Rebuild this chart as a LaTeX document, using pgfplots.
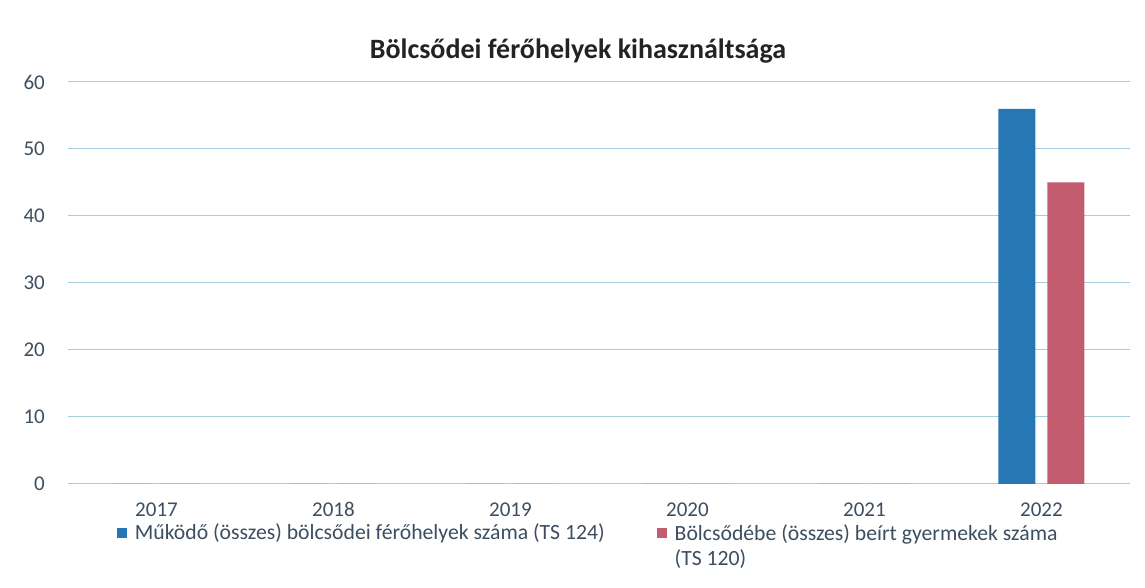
\documentclass[border=0pt]{standalone}
\usepackage{pgfplots}
\pgfplotsset{compat=1.18}
\usepackage{fontspec}
\setmainfont{Carlito}
\definecolor{barblue}{RGB}{38,120,180}
\definecolor{barred}{RGB}{196,92,112}
\definecolor{gridc}{RGB}{165,205,222}
\definecolor{ticktext}{RGB}{60,78,96}
\definecolor{titletext}{RGB}{35,35,35}
\begin{document}
\begin{tikzpicture}[x=1pt,y=1pt]
\path[use as bounding box, fill=white] (0,0) rectangle (1145,588);
\begin{axis}[
  at={(68pt,104pt)}, anchor=south west,
  scale only axis, width=1062pt, height=402pt,
  xmin=-0.5, xmax=5.5, ymin=0, ymax=60,
  xtick={0,1,2,3,4,5}, xticklabels={2017,2018,2019,2020,2021,2022},
  ytick={0,10,20,30,40,50,60},
  axis line style={draw=none},
  major tick length=0pt,
  ymajorgrids, grid style={gridc, line width=1pt},
  /pgf/number format/assume math mode=true,
  ticklabel style={font=\fontsize{21}{25}\selectfont, text=ticktext, inner sep=0pt},
  yticklabel style={anchor=east, xshift=-23pt},
  xticklabel style={anchor=base, yshift=-33pt},
  legend style={at={(0.043,-0.086)}, anchor=north west, draw=none, fill=none,
    font=\fontsize{21.7}{25}\selectfont, text=ticktext,
    /tikz/every even column/.append style={column sep=50pt}},
  legend columns=2, legend cell align=left,
]
\addplot[ybar, bar width=37pt, bar shift=-24.5pt, fill=barblue, draw=none,
  legend image code/.code={\fill[barblue] (0pt,-6pt) rectangle (10.5pt,4.5pt);\path (16pt,-6pt);}]
  coordinates {(0,0) (1,0) (2,0) (3,0) (4,0) (5,56)};
\addlegendentry{Működő (összes) bölcsődei férőhelyek száma (TS 124)}
\addplot[ybar, bar width=37pt, bar shift=24.5pt, fill=barred, draw=none,
  legend image code/.code={\fill[barred] (0pt,-6pt) rectangle (10.5pt,4.5pt);\path (16pt,-6pt);}]
  coordinates {(0,0) (1,0) (2,0) (3,0) (4,0) (5,45)};
\addlegendentry{\begin{tabular}[t]{@{}l@{}}Bölcsődébe (összes) beírt gyermekek száma\\(TS 120)\end{tabular}}
\end{axis}
\node[font=\bfseries\fontsize{28}{32}\selectfont, text=titletext] at (578,537) {Bölcsődei férőhelyek kihasználtsága};
\end{tikzpicture}
\end{document}
